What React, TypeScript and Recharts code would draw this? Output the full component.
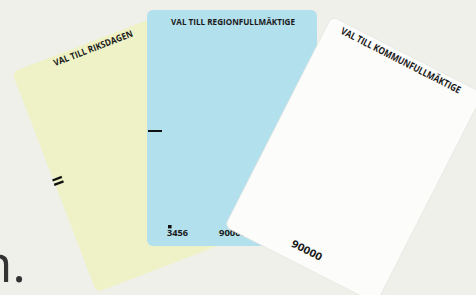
import React from 'react';
import { ScatterChart, Scatter, XAxis, YAxis } from 'recharts';

// Ballot cards (illustration): centre position, rotation, colour, title
const cardTitles = ['VAL TILL RIKSDAGEN', 'VAL TILL REGIONFULLMÄKTIGE', 'VAL TILL KOMMUNFULLMÄKTIGE'];
const cardCenterX = [133.6, 232, 354];
const cardCenterY = [151.8, 128, 160];
const cardAngles = [-21, 0, 27];
const cardColors = ['#eef2c6', '#b2e0ec', '#fcfcfb'];
const cardMarks = ['=', '-', ''];
const blueNumbers = ['3456', '90000'];
const whiteNumbers = ['90000'];

const captionText = ['n.'];
const captionX = [26];
const captionY = [282];

const W = 476;
const H = 295;

const cards = cardTitles.map((t, i) => ({
  x: cardCenterX[i],
  y: cardCenterY[i],
  angle: cardAngles[i],
  fill: cardColors[i],
  title: t,
  mark: cardMarks[i],
  idx: i,
}));

const captions = captionText.map((t, i) => ({ x: captionX[i], y: captionY[i], text: t }));

const FONT = '"Open Sans", "DejaVu Sans", sans-serif';

const CardShape = (props: any) => {
  const { cx, cy, payload } = props;
  const { angle, fill, title, mark, idx } = payload;
  const titleY = idx === 0 ? -111.5 : idx === 1 ? -107 : -110;
  const titleX = idx === 0 ? -0.7 : idx === 1 ? 1 : -3.5;
  const titleLen = idx === 0 ? 84 : idx === 1 ? 124 : 133;
  return (
    <g transform={`translate(${cx},${cy}) rotate(${angle})`}>
      <rect
        x={-85}
        y={-118}
        width={170}
        height={236}
        rx={6}
        ry={6}
        fill={fill}
        stroke={idx === 2 ? '#e4e4e0' : 'none'}
        strokeWidth={0.7}
      />
      <text
        x={titleX}
        y={titleY}
        textAnchor="middle"
        dominantBaseline="central"
        fontFamily={FONT}
        fontWeight={700}
        fontSize={idx === 2 ? 9.8 : 9.2}
        fill="#1a1a1a"
        textLength={titleLen}
        lengthAdjust="spacingAndGlyphs"
      >
        {title}
      </text>
      {mark === '=' && (
        <g>
          <rect x={-86} y={-3.4} width={10} height={2.3} fill="#111" />
          <rect x={-86} y={1.3} width={10} height={2.3} fill="#111" />
        </g>
      )}
      {mark === '-' && <rect x={-84} y={2} width={14} height={2} fill="#111" />}
      {idx === 1 && (
        <g>
          <rect x={-64} y={97} width={3.6} height={3.4} fill="#111" />
          <text x={-65} y={108} fontFamily={FONT} fontWeight={700} fontSize={9.6} fill="#1a1a1a" textLength={21} lengthAdjust="spacingAndGlyphs">
            {blueNumbers[0]}
          </text>
          <text x={-13} y={108} fontFamily={FONT} fontWeight={700} fontSize={9.6} fill="#1a1a1a" textLength={27} lengthAdjust="spacingAndGlyphs">
            {blueNumbers[1]}
          </text>
        </g>
      )}
      {idx === 2 && (
        <text
          x={-1}
          y={101.5}
          textAnchor="middle"
          dominantBaseline="central"
          fontFamily={FONT}
          fontWeight={700}
          fontSize={10.4}
          fill="#1a1a1a"
          textLength={33}
          lengthAdjust="spacingAndGlyphs"
        >
          {whiteNumbers[0]}
        </text>
      )}
    </g>
  );
};

const CaptionShape = (props: any) => {
  const { cx, cy, payload } = props;
  return (
    <text x={cx} y={cy} textAnchor="end" fontFamily={FONT} fontSize={52} fill="#333333">
      {payload.text}
    </text>
  );
};

export default function App() {
  return (
    <div style={{ position: 'fixed', left: 0, top: 0, width: W, height: H, background: '#f0f0ea', overflow: 'hidden' }}>
      <ScatterChart width={W} height={H} margin={{ top: 0, right: 0, bottom: 0, left: 0 }}>
        <XAxis type="number" dataKey="x" domain={[0, W]} hide allowDataOverflow />
        <YAxis type="number" dataKey="y" domain={[0, H]} reversed hide allowDataOverflow />
        <Scatter data={captions} shape={CaptionShape} isAnimationActive={false} />
        <Scatter data={cards} shape={CardShape} isAnimationActive={false} />
      </ScatterChart>
    </div>
  );
}
